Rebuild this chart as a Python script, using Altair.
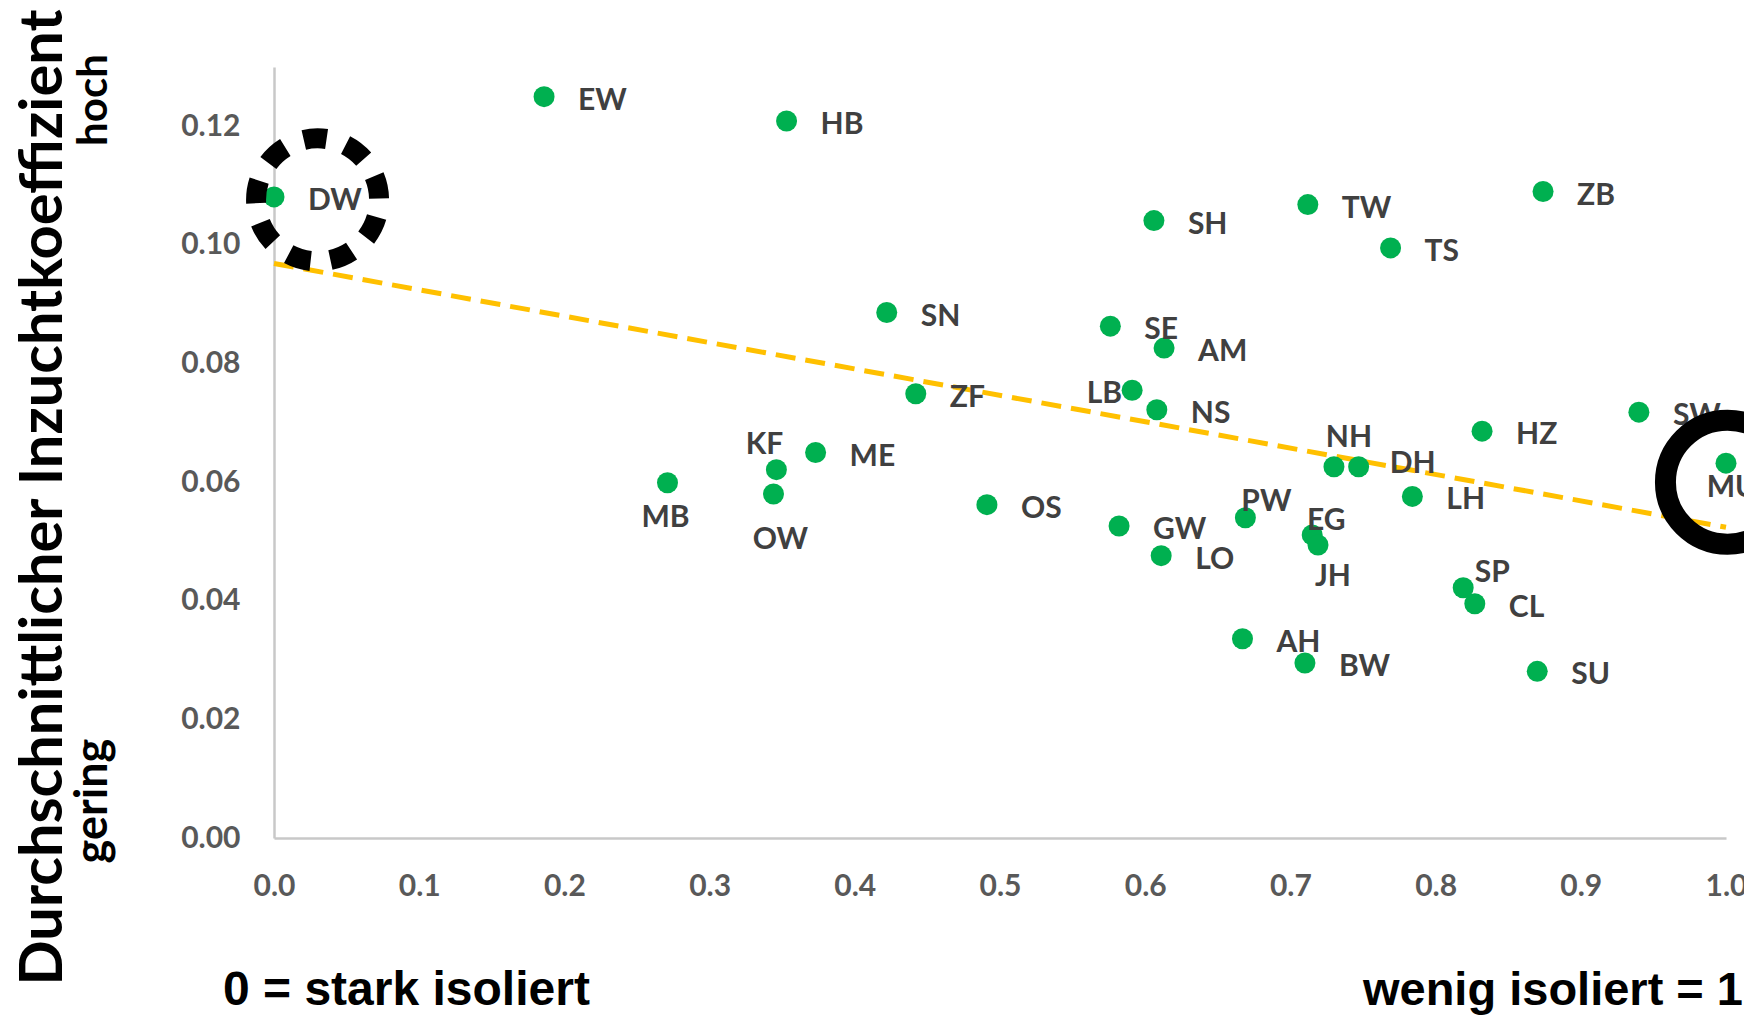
import altair as alt
import pandas as pd

# ---- data ----
labels = ["EW", "HB", "DW", "SH", "TW", "TS", "ZB", "SN", "SE", "AM", "ZF", "LB",
          "NS", "SW", "HZ", "MU", "NH", "DH", "LH", "KF", "ME", "MB", "OW", "OS",
          "GW", "LO", "PW", "EG", "JH", "SP", "CL", "AH", "BW", "SU"]
isolation = [0.186, 0.353, 0.000, 0.606, 0.712, 0.769, 0.874, 0.422, 0.576, 0.613,
             0.442, 0.591, 0.608, 0.940, 0.832, 1.000, 0.730, 0.747, 0.784, 0.346,
             0.373, 0.271, 0.344, 0.491, 0.582, 0.611, 0.669, 0.715, 0.719, 0.819,
             0.827, 0.667, 0.710, 0.870]
inbreeding = [0.1250, 0.1209, 0.1081, 0.1041, 0.1068, 0.0995, 0.1090, 0.0886, 0.0863,
              0.0826, 0.0749, 0.0755, 0.0722, 0.0718, 0.0686, 0.0632, 0.0626, 0.0626,
              0.0576, 0.0621, 0.0650, 0.0599, 0.0580, 0.0562, 0.0526, 0.0476, 0.0540,
              0.0511, 0.0494, 0.0422, 0.0395, 0.0336, 0.0295, 0.0281]

x_ticks = [0.0, 0.1, 0.2, 0.3, 0.4, 0.5, 0.6, 0.7, 0.8, 0.9, 1.0]
y_ticks = [0.00, 0.02, 0.04, 0.06, 0.08, 0.10, 0.12]

# highlighted populations (annotation circles)
dashed_circle_x = [0.030]
dashed_circle_y = [0.1076]
solid_circle_x = [1.001]
solid_circle_y = [0.0600]

df = pd.DataFrame({"x": isolation, "y": inbreeding, "label": labels})

# ---- label placement (pixel offsets from the dot) ----
DEFAULT_OFFSET = (34, 4, "left")
LABEL_OFFSETS = {
    "KF": (-12, -25, "center"),
    "LB": (-10, 4, "right"),
    "NH": (15, -29, "center"),
    "DH": (31, -3, "left"),
    "PW": (21, -16, "center"),
    "EG": (14, -14, "center"),
    "SP": (29, -15, "center"),
    "MB": (-2, 35, "center"),
    "OW": (7, 46, "center"),
    "JH": (15, 32, "center"),
    "MU": (6, 25, "center"),
}

FONT = "Lato"
x_enc = alt.X(
    "x:Q",
    scale=alt.Scale(domain=[0, 1], nice=False, zero=False),
    axis=alt.Axis(values=x_ticks, format=".1f", labelFont=FONT, labelFontSize=30,
                  labelFontWeight="bold", labelColor="#595959", ticks=False, tickSize=0,
                  grid=False, domainColor="#C8C8C8", domainWidth=2.5,
                  labelPadding=48, labelBaseline="middle", labelFlush=False),
    title=None,
)
y_enc = alt.Y(
    "y:Q",
    scale=alt.Scale(domain=[0, 0.13], nice=False),
    axis=alt.Axis(values=y_ticks, format=".2f", labelFont=FONT, labelFontSize=30,
                  labelFontWeight="bold", labelColor="#595959", ticks=False, tickSize=0,
                  grid=False, domainColor="#C8C8C8", domainWidth=2.5,
                  labelPadding=34, labelBaseline="middle", labelFlush=False,
                  titleFont=FONT, titleFontSize=59.5, titleFontWeight="bold",
                  titleColor="black", titleAngle=270, titleX=-213, titleY=430,
                  titleAlign="center", titleBaseline="alphabetic"),
    title="Durchschnittlicher Inzuchtkoeffizient",
)

trend = alt.Chart(df).transform_regression("x", "y", extent=[0, 1]).mark_line(
    color="#FFC000", strokeWidth=5, strokeDash=[20, 10]
).encode(x=x_enc, y=y_enc)

points = alt.Chart(df).mark_circle(color="#00B050", opacity=1, size=441).encode(
    x=x_enc, y=y_enc
)

# group labels by placement
groups = {}
for lab in labels:
    off = LABEL_OFFSETS.get(lab, DEFAULT_OFFSET)
    groups.setdefault(off, []).append(lab)

label_layers = []
for (dx, dy, align), labs in groups.items():
    label_layers.append(
        alt.Chart(df)
        .transform_filter(alt.FieldOneOfPredicate(field="label", oneOf=labs))
        .mark_text(font=FONT, fontSize=30, fontWeight="bold", color="#404040",
                   dx=dx, dy=dy, align=align, baseline="middle")
        .encode(x=x_enc, y=y_enc, text="label:N")
    )

dashed_circle = alt.Chart(
    pd.DataFrame({"x": dashed_circle_x, "y": dashed_circle_y})
).mark_point(shape="circle", filled=False, color="black", size=15129,
             strokeWidth=20, strokeDash=[23, 20], strokeDashOffset=25.5,
             opacity=1).encode(x=x_enc, y=y_enc)

solid_circle = alt.Chart(
    pd.DataFrame({"x": solid_circle_x, "y": solid_circle_y})
).mark_point(shape="circle", filled=False, color="black", size=15376,
             strokeWidth=21, opacity=1).encode(x=x_enc, y=y_enc)

def note(text, xv, yv, size, angle=0, align="center", font=FONT):
    return alt.Chart(pd.DataFrame({"t": [text]})).mark_text(
        font=font, fontSize=size, fontWeight="bold", color="black",
        angle=angle, align=align, baseline="alphabetic"
    ).encode(text="t:N", x=alt.value(xv), y=alt.value(yv))

hoch = note("hoch", -167, 33, 42, angle=270)
gering = note("gering", -167, 734, 45, angle=270)
left_note = note("0 = stark isoliert", -51, 938, 48, align="left", font="Liberation Sans")
right_note = note("wenig isoliert = 1", 1469, 938, 47, align="right", font="Liberation Sans")

chart = alt.layer(
    trend, points, *label_layers, dashed_circle, solid_circle,
    hoch, gering, left_note, right_note
).properties(
    width=1452, height=771,
    autosize=alt.AutoSizeParams(type="none"),
    padding={"left": 266, "top": 59, "right": 18, "bottom": 178},
).configure_view(stroke=None)

chart.save("out.html", embed_options={"renderer": "svg", "actions": False})
